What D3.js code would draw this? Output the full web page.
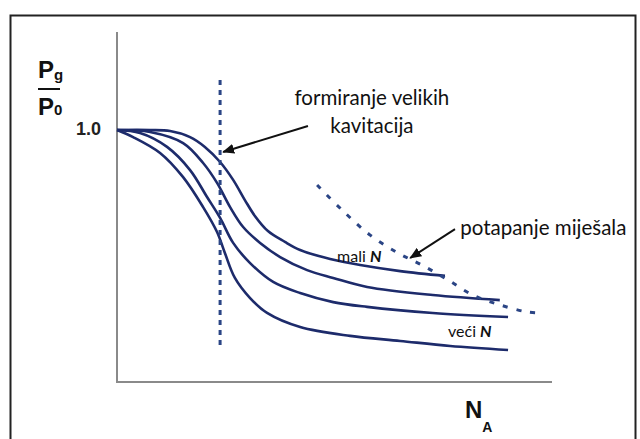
<!DOCTYPE html>
<html>
<head>
<meta charset="utf-8">
<script src="https://cdn.jsdelivr.net/npm/d3@7"></script>
<style>
  html, body { margin: 0; padding: 0; background: #fff; }
  svg { display: block; }
</style>
</head>
<body>
<svg id="chart" width="640" height="439"></svg>
<script>
// ---------- data (N_A in arbitrary units, y = Pg/P0) ----------
const curveNames = ["mali N", "c2", "c3", "veći N"];
const curve1X = [0, 0.76, 1.22, 1.68, 2.02, 2.37, 2.67, 2.94, 3.17, 3.47, 3.86, 4.21, 4.90, 5.59, 6.51, 7.54];
const curve1Y = [1.0, 1.0, 0.996, 0.972, 0.933, 0.873, 0.802, 0.722, 0.659, 0.599, 0.556, 0.524, 0.488, 0.464, 0.440, 0.421];
const curve2X = [0, 0.76, 1.52, 1.98, 2.30, 2.60, 2.90, 3.29, 3.75, 4.37, 4.97, 5.75, 7.26, 8.80];
const curve2Y = [1.0, 0.992, 0.948, 0.869, 0.790, 0.694, 0.615, 0.552, 0.496, 0.444, 0.413, 0.377, 0.345, 0.325];
const curve3X = [0, 0.53, 1.15, 1.68, 2.07, 2.37, 2.67, 3.06, 3.59, 4.21, 4.97, 5.75, 7.26, 8.99];
const curve3Y = [1.0, 0.988, 0.933, 0.841, 0.734, 0.651, 0.552, 0.472, 0.397, 0.353, 0.317, 0.298, 0.274, 0.258];
const curve4X = [0, 0.37, 0.99, 1.52, 1.98, 2.30, 2.48, 2.71, 3.06, 3.45, 4.21, 5.36, 6.51, 7.66, 8.99];
const curve4Y = [1.0, 0.972, 0.909, 0.813, 0.694, 0.595, 0.512, 0.413, 0.333, 0.274, 0.218, 0.183, 0.163, 0.143, 0.127];

// flooding boundary (dotted)
const floodX = [4.60, 5.17, 5.82, 6.46, 7.01, 7.61, 8.18, 8.80, 9.43, 9.79];
const floodY = [0.782, 0.683, 0.583, 0.512, 0.464, 0.405, 0.345, 0.306, 0.278, 0.274];

// cavitation boundary (vertical dotted)
const cavX = [2.37, 2.37];
const cavY = [1.198, 0.147];

// tick labels
const yTicks = [1.0];
const yTickLabels = ["1.0"];

// annotations (data units)
const annoLabels = ["formiranje velikih", "kavitacija", "potapanje miješala"];
const arrowFrom = [[4.39, 1.016], [7.77, 0.607]];
const arrowTo = [[2.44, 0.913], [6.74, 0.492]];

// ---------- layout ----------
const svg = d3.select("#chart");
const x = d3.scaleLinear().domain([0, 10]).range([117, 552]);
const y = d3.scaleLinear().domain([0, 1]).range([382, 130]);

// outer frame
svg.append("rect")
  .attr("x", 10.5).attr("y", 15.5).attr("width", 625).attr("height", 440)
  .attr("fill", "none").attr("stroke", "#222").attr("stroke-width", 2);

// axes
svg.append("line").attr("x1", x(0)).attr("x2", x(0)).attr("y1", 32).attr("y2", y(0))
  .attr("stroke", "#8a8a8a").attr("stroke-width", 2);
svg.append("line").attr("x1", x(0) - 1).attr("x2", x(10)).attr("y1", y(0)).attr("y2", y(0))
  .attr("stroke", "#8a8a8a").attr("stroke-width", 2);

// y tick label
svg.selectAll("text.ytick").data(yTicks).join("text")
  .attr("class", "ytick")
  .attr("x", 101).attr("y", d => y(d) - 1)
  .attr("dy", "0.36em")
  .attr("text-anchor", "end")
  .attr("font-family", "Liberation Sans, Arial, sans-serif")
  .attr("font-weight", "bold").attr("font-size", 18).attr("fill", "#222")
  .text((d, i) => yTickLabels[i]);

// y axis title Pg / P0
const yt = svg.append("g").attr("font-family", "Liberation Sans, Arial, sans-serif")
  .attr("font-weight", "bold").attr("fill", "#111");
const t1 = yt.append("text").attr("x", 38).attr("y", 78).attr("font-size", 24);
t1.append("tspan").text("P");
t1.append("tspan").attr("font-size", 15).attr("dy", 2).text("g");
yt.append("line").attr("x1", 38).attr("x2", 60).attr("y1", 89).attr("y2", 89)
  .attr("stroke", "#111").attr("stroke-width", 2);
const t2 = yt.append("text").attr("x", 38).attr("y", 115).attr("font-size", 24);
t2.append("tspan").text("P");
t2.append("tspan").attr("font-size", 15).attr("dy", 0).text("0");

// x axis title N_A
const xt = svg.append("text").attr("x", 465).attr("y", 418)
  .attr("font-family", "Liberation Sans, Arial, sans-serif")
  .attr("font-weight", "bold").attr("fill", "#111").attr("font-size", 24);
xt.append("tspan").text("N");
xt.append("tspan").attr("font-size", 14).attr("dy", 14).text("A");

// curves
const curves = [
  curve1X.map((v, i) => [v, curve1Y[i]]),
  curve2X.map((v, i) => [v, curve2Y[i]]),
  curve3X.map((v, i) => [v, curve3Y[i]]),
  curve4X.map((v, i) => [v, curve4Y[i]])
];
const line = d3.line().x(d => x(d[0])).y(d => y(d[1])).curve(d3.curveCatmullRom.alpha(0.5));
svg.selectAll("path.curve").data(curves).join("path")
  .attr("class", "curve")
  .attr("d", line)
  .attr("fill", "none").attr("stroke", "#1d2b6b").attr("stroke-width", 2.6);

// dotted boundaries
svg.append("path")
  .datum(cavX.map((v, i) => [v, cavY[i]]))
  .attr("d", d3.line().x(d => x(d[0])).y(d => y(d[1])))
  .attr("fill", "none").attr("stroke", "#2b4585").attr("stroke-width", 3)
  .attr("stroke-dasharray", "5,5");
svg.append("path")
  .datum(floodX.map((v, i) => [v, floodY[i]]))
  .attr("d", d3.line().x(d => x(d[0])).y(d => y(d[1])).curve(d3.curveCatmullRom.alpha(0.5)))
  .attr("fill", "none").attr("stroke", "#2b4585").attr("stroke-width", 3)
  .attr("stroke-dasharray", "5,9");

// arrows
const defs = svg.append("defs");
defs.append("marker").attr("id", "ah")
  .attr("viewBox", "0 0 12 10").attr("refX", 11).attr("refY", 5)
  .attr("markerWidth", 12).attr("markerHeight", 10)
  .attr("markerUnits", "userSpaceOnUse")
  .attr("orient", "auto")
  .append("path").attr("d", "M0,0 L12,5 L0,10 Z").attr("fill", "#111");
svg.selectAll("line.arrow").data(arrowFrom).join("line")
  .attr("class", "arrow")
  .attr("x1", d => x(d[0])).attr("y1", d => y(d[1]))
  .attr("x2", (d, i) => x(arrowTo[i][0])).attr("y2", (d, i) => y(arrowTo[i][1]))
  .attr("stroke", "#111").attr("stroke-width", 2)
  .attr("marker-end", "url(#ah)");

// annotation text
const af = "Lato, 'Open Sans', sans-serif";
svg.append("text").attr("x", x(5.86)).attr("y", y(1.099)).attr("text-anchor", "middle")
  .attr("font-family", af).attr("font-size", 20.5).attr("fill", "#111").text(annoLabels[0]);
svg.append("text").attr("x", x(5.86)).attr("y", y(0.988)).attr("text-anchor", "middle")
  .attr("font-family", af).attr("font-size", 20.5).attr("fill", "#111").text(annoLabels[1]);
svg.append("text").attr("x", x(7.89)).attr("y", y(0.583))
  .attr("font-family", af).attr("font-size", 20.5).attr("fill", "#111").text(annoLabels[2]);

// curve labels
const lab1 = svg.append("text").attr("x", x(5.06)).attr("y", y(0.476))
  .attr("font-family", af).attr("font-size", 16).attr("fill", "#111");
lab1.append("tspan").text("mali ");
lab1.append("tspan").attr("font-weight", "bold").attr("font-style", "italic").text("N");
const lab2 = svg.append("text").attr("x", x(7.61)).attr("y", y(0.179))
  .attr("font-family", af).attr("font-size", 16).attr("fill", "#111");
lab2.append("tspan").text("veći ");
lab2.append("tspan").attr("font-weight", "bold").attr("font-style", "italic").text("N");
</script>
</body>
</html>
